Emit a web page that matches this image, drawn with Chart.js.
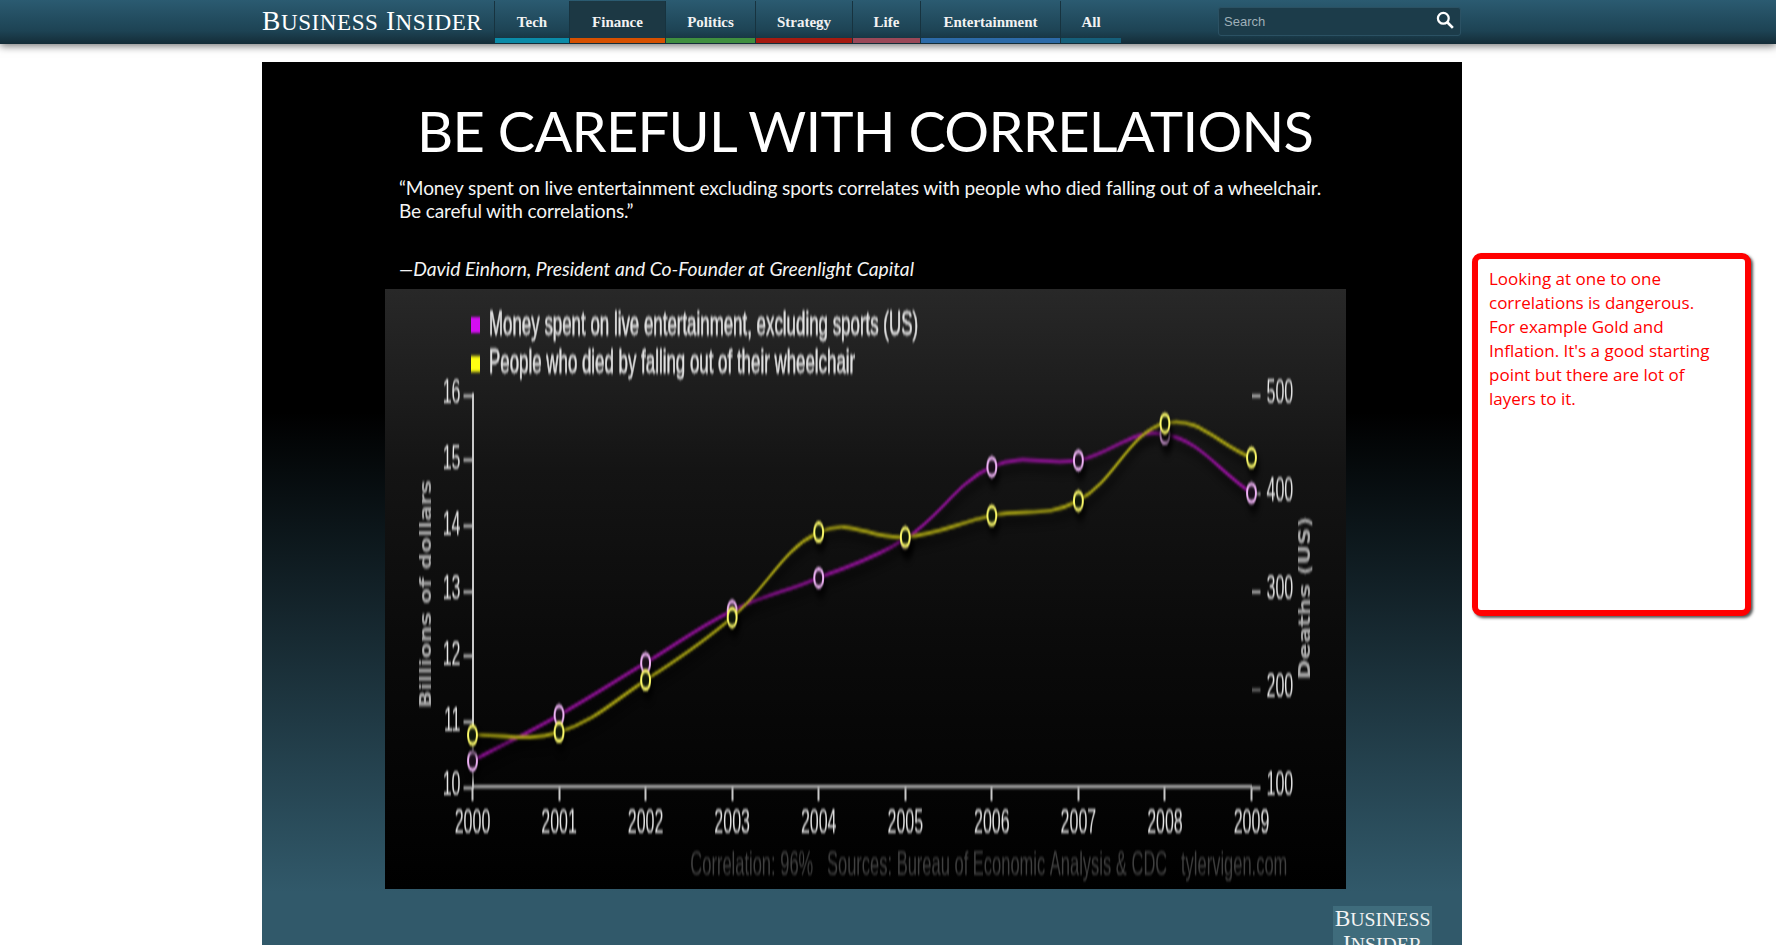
<!DOCTYPE html>
<html>
<head>
<meta charset="utf-8">
<title>Be careful with correlations</title>
<script src="https://cdn.jsdelivr.net/npm/chart.js@4"></script>
<style>
  html, body { margin: 0; padding: 0; width: 1776px; height: 945px; overflow: hidden; background: #fff; }
  .abs { position: absolute; white-space: nowrap; }
  .sc { font-size: .84em; }

  /* top nav */
  #nav { position: absolute; left: 0; top: 0; width: 1776px; height: 44px;
         background: linear-gradient(#2b5b71, #1d4354 70%, #142c37);
         box-shadow: 0 2px 8px rgba(0,0,0,.55); }
  #logo { left: 262px; top: 6px; font: 27.5px/30px "Liberation Serif", serif; color: #fff; letter-spacing: .55px; }
  .tab { position: absolute; top: 1px; height: 42px; border-left: 1px solid #17333f; box-sizing: border-box;
         font: bold 15px/42px "Liberation Serif", serif; color: #f2f2f2; text-align: center; }
  .tab i { position: absolute; left: 0; right: 0; bottom: 0; height: 5px; }
  #search { position: absolute; left: 1218px; top: 7px; width: 243px; height: 29px; box-sizing: border-box;
            background: #1c3c4a; border: 1px solid #2b5163; border-radius: 3px;
            font: 13px/28px "Liberation Sans", sans-serif; color: #9fb0b8; padding-left: 5px; }

  /* dark slide */
  #slide { position: absolute; left: 262px; top: 62px; width: 1200px; height: 883px;
           background: linear-gradient(#000 0, #000 350px, #31596a 830px); }
  #headline { left: 417px; top: 96px; font: 56px/70px Lato, sans-serif; color: #fff; letter-spacing: -.72px; }
  .quote { left: 399px; font: 19.1px/24px Lato, sans-serif; color: #f4f4f4; letter-spacing: -.14px; }

  /* chart picture, drawn squat and stretched tall like the low-res source image */
  #plot { position: absolute; left: 385px; top: 289px; width: 961px; height: 600px;
          background: linear-gradient(#282828 0, #141414 30%, #0a0a0a 60%, #000 100%); overflow: hidden; }
  #chart { position: absolute; left: 0; top: 0; transform-origin: 0 0; transform: scale(1, 2); filter: blur(.55px); }

  /* red note */
  #note { position: absolute; left: 1472px; top: 253px; width: 279px; height: 363px; box-sizing: border-box;
          border: 6px solid #f00; border-radius: 9px; background: #fff; box-shadow: 2px 2px 3px #555;
          padding: 8px 11px; font: 17px/24px "Open Sans", sans-serif; color: #f00; }

  #mark { position: absolute; left: 1333px; top: 906px; width: 99px; height: 39px; background: #3f6c7c; overflow: hidden;
          font: 23.5px/24px "Liberation Serif", serif; color: #f4f4f4; text-align: center; }
</style>
</head>
<body>
<div id="nav">
  <div id="logo" class="abs">B<span class="sc">USINESS</span> I<span class="sc">NSIDER</span></div>
  <div id="tabs"></div>
  <div id="search">Search
    <svg style="position:absolute;right:6px;top:3px" width="18" height="18" viewBox="0 0 16 16"><circle cx="6.5" cy="6.5" r="4.8" fill="none" stroke="#fff" stroke-width="2"/><line x1="10" y1="10" x2="15" y2="15" stroke="#fff" stroke-width="2.4"/></svg>
  </div>
</div>

<div id="slide"></div>
<div id="headline" class="abs">BE CAREFUL WITH CORRELATIONS</div>
<div class="abs quote" style="top:176px">“Money spent on live entertainment excluding sports correlates with people who died falling out of a wheelchair.</div>
<div class="abs quote" style="top:199px">Be careful with correlations.”</div>
<div class="abs quote" style="top:257px;font-style:italic;font-size:19.3px;letter-spacing:0">—David Einhorn, President and Co-Founder at Greenlight Capital</div>

<div id="plot"><canvas id="chart" width="961" height="300"></canvas></div>

<div id="note">Looking at one to one<br>correlations is dangerous.<br>For example Gold and<br>Inflation. It's a good starting<br>point but there are lot of<br>layers to it.</div>
<div id="mark">B<span class="sc">USINESS</span><br>I<span class="sc">NSIDER</span></div>

<script>
const years = ['2000','2001','2002','2003','2004','2005','2006','2007','2008','2009'];
const moneySpent = [10.4, 11.1, 11.9, 12.7, 13.2, 13.8, 14.9, 15.0, 15.4, 14.5];
const wheelchairDeaths = [153, 156, 209, 273, 360, 355, 377, 392, 471, 436];
const moneyLabel = 'Money spent on live entertainment, excluding sports (US)';
const deathsLabel = 'People who died by falling out of their wheelchair';
const sourceLine = 'Correlation: 96%   Sources: Bureau of Economic Analysis & CDC   tylervigen.com  ';
const legendColors = ['#d40df2', '#ffff12'];

// Site menu
const tabNames = ['Tech','Finance','Politics','Strategy','Life','Entertainment','All'];
const tabEdges = [494, 569, 665, 755, 852, 920, 1060, 1121];
const tabColors = ['#0a8ba8','#d65000','#3f8f3f','#a51a10','#9a4858','#2c6aa8','#155f7a'];

tabNames.forEach((name, i) => {
  const tab = document.createElement('div');
  tab.className = 'tab';
  tab.style.left = tabEdges[i] + 'px';
  tab.style.width = (tabEdges[i + 1] - tabEdges[i]) + 'px';
  if (name === 'Finance') tab.style.background = '#1c3844';
  tab.innerHTML = name + '<i style="background:' + tabColors[i] + '"></i>';
  document.getElementById('tabs').appendChild(tab);
});

const STRETCH = 2; // css stretch of the canvas

// Squeeze one rotated title so it keeps its own proportions in spite of the stretch
function drawAxisTitle(ctx, text, x, y, length) {
  ctx.save();
  ctx.font = 'bold 16px "DejaVu Sans"';
  ctx.fillStyle = '#aaaaaa';
  ctx.textAlign = 'center';
  ctx.textBaseline = 'middle';
  const k = length / (ctx.measureText(text).width * STRETCH);
  ctx.translate(x, y);
  ctx.scale(1, k);
  ctx.rotate(-Math.PI / 2);
  ctx.fillText(text, 0, 0);
  ctx.restore();
}

const annotations = {
  id: 'annotations',
  // black drop shadow under the lines
  beforeDatasetDraw(chart) {
    const ctx = chart.ctx;
    ctx.save();
    ctx.shadowColor = 'rgba(0,0,0,.85)';
    ctx.shadowBlur = 4;
    ctx.shadowOffsetX = 2;
    ctx.shadowOffsetY = 4;
  },
  afterDatasetDraw(chart) {
    chart.ctx.restore();
  },
  afterDraw(chart) {
    const ctx = chart.ctx;
    drawAxisTitle(ctx, 'Billions of dollars', 42, 152.5, 228);
    drawAxisTitle(ctx, 'Deaths (US)', 921, 154.5, 163);

    // two stacked legend rows
    ctx.save();
    ctx.font = '16.9px "Liberation Sans"';
    ctx.textBaseline = 'middle';
    ctx.lineWidth = 0.35;
    chart.data.datasets.forEach((ds, i) => {
      const y = i === 0 ? 18 : 37.5;
      ctx.fillStyle = legendColors[i];
      ctx.fillRect(86, y - 4, 9, 8);
      ctx.fillStyle = '#e2e2e2';
      ctx.strokeStyle = '#e2e2e2';
      ctx.fillText(ds.label, 104, y);
      ctx.strokeText(ds.label, 104, y);
    });
    ctx.restore();
  }
};

function fixedWidth(w) { return scale => { scale.width = w; }; }

new Chart(document.getElementById('chart'), {
  type: 'line',
  data: {
    labels: years,
    datasets: [
      { label: moneyLabel, data: moneySpent, yAxisID: 'y', order: 1,
        borderColor: '#98129f', pointBorderColor: '#f0b4f6', pointBackgroundColor: '#241526' },
      { label: deathsLabel, data: wheelchairDeaths, yAxisID: 'y1', order: 0,
        borderColor: '#b4ae14', pointBorderColor: '#fdfb6a', pointBackgroundColor: '#15200f' }
    ]
  },
  options: {
    responsive: false,
    animation: false,
    devicePixelRatio: 1,
    layout: { padding: { top: 53, right: 49.5, bottom: 1.5, left: 0 } },
    elements: {
      line: { borderWidth: 1.7, tension: 0.4 },
      point: { radius: 4.5, borderWidth: 2 }
    },
    datasets: { line: { clip: false } },
    plugins: {
      legend: { display: false },
      tooltip: { enabled: false },
      title: {
        display: true, text: sourceLine, position: 'bottom', align: 'end', color: '#414141',
        font: { family: '"Liberation Sans"', size: 16.5, weight: 'normal' }, padding: 0
      }
    },
    scales: {
      x: {
        afterFit: scale => { scale.height = 29.7; },
        border: { color: '#c9c9c9', width: 1.5 },
        grid: { drawOnChartArea: false, color: '#c9c9c9', tickLength: 7, tickWidth: 2 },
        ticks: { color: '#e6e6e6', padding: 2, maxRotation: 0, autoSkip: false,
                 font: { family: '"Liberation Sans"', size: 16 } }
      },
      y: {
        position: 'left', min: 10, max: 16,
        afterFit: fixedWidth(87.5),
        border: { color: '#c9c9c9', width: 2 },
        grid: { drawOnChartArea: false, color: '#c9c9c9', tickLength: 9, tickWidth: 1.5 },
        ticks: { stepSize: 1, color: '#e6e6e6', padding: 3,
                 font: { family: '"Liberation Sans"', size: 16 } }
      },
      y1: {
        position: 'right', min: 100, max: 500,
        afterFit: fixedWidth(45),
        border: { display: false },
        grid: { drawOnChartArea: false, tickLength: 9, tickWidth: 1.5,
                color: ctx => ctx.tick && ctx.tick.value === 200 ? '#777777' : '#c9c9c9' },
        ticks: { stepSize: 100, color: '#e6e6e6', padding: 6,
                 font: { family: '"Liberation Sans"', size: 16 } }
      }
    }
  },
  plugins: [annotations]
});
</script>
</body>
</html>
